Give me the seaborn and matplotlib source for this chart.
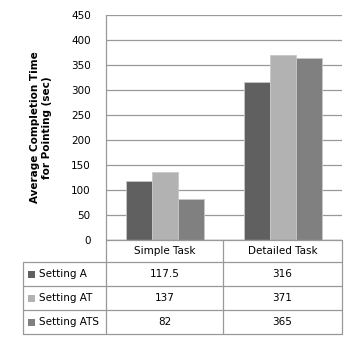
import matplotlib
matplotlib.use("Agg")
import matplotlib.pyplot as plt
from matplotlib.lines import Line2D
from matplotlib.patches import Rectangle
import seaborn as sns
import pandas as pd

categories = ["Simple Task", "Detailed Task"]
settings = ["Setting A", "Setting AT", "Setting ATS"]
setting_a = [117.5, 316]
setting_at = [137, 371]
setting_ats = [82, 365]
value_labels = [["117.5", "316"], ["137", "371"], ["82", "365"]]
colors = ["#606060", "#b2b2b2", "#808080"]

rows = []
for s, vals in zip(settings, [setting_a, setting_at, setting_ats]):
    for c, v in zip(categories, vals):
        rows.append({"Task": c, "Setting": s, "Time": v})
df = pd.DataFrame(rows)

sns.set_style("white")
plt.rcParams["font.family"] = ["DejaVu Sans"]
plt.rcParams["text.color"] = "black"
plt.rcParams["axes.labelcolor"] = "black"
plt.rcParams["ytick.color"] = "black"

W, H = 357, 340
fig = plt.figure(figsize=(W / 100, H / 100), dpi=100)
L, R, T, B = 106, 342, 15, 240
ax = fig.add_axes([L / W, 1 - B / H, (R - L) / W, (B - T) / H])

sns.barplot(data=df, x="Task", y="Time", hue="Setting", hue_order=settings,
            order=categories, palette=colors, width=0.66, ax=ax,
            edgecolor="#c8c8c8", linewidth=0.6, legend=False, saturation=1)

ax.set_ylim(0, 450)
ax.set_xlim(-0.5, 1.5)
ax.set_yticks(range(0, 451, 50))
ax.tick_params(axis="y", labelsize=7.5, length=3, color="#999999", pad=8,
               labelcolor="black")
ax.set_xticks([])
ax.set_xlabel("")
ax.set_ylabel("Average Completion Time\nfor Pointing (sec)", fontsize=7.5,
              fontweight="bold", labelpad=14, color="black")
ax.grid(axis="y", color="#999999", linewidth=0.9)
ax.set_axisbelow(True)
for sp in ["top", "right", "bottom"]:
    ax.spines[sp].set_visible(False)
ax.spines["left"].set_color("#999999")
ax.spines["left"].set_linewidth(0.9)
ax.axhline(0, color="#999999", linewidth=0.9)


def fx(x):
    return x / W


def fy(y):
    return 1 - y / H


lc = "#999999"
# table geometry (pixels)
row_y = [240, 262, 286, 310, 334]
col_x = [23, 106, 223, 342]


def hline(x0, x1, y):
    fig.add_artist(Line2D([fx(x0), fx(x1)], [fy(y), fy(y)], color=lc, lw=0.9))


def vline(x, y0, y1):
    fig.add_artist(Line2D([fx(x), fx(x)], [fy(y0), fy(y1)], color=lc, lw=0.9))


hline(col_x[1], col_x[3], row_y[0])
for y in row_y[1:]:
    hline(col_x[0], col_x[3], y)
vline(col_x[0], row_y[1], row_y[4])
vline(col_x[1], row_y[0], row_y[4])
vline(col_x[2], row_y[0], row_y[4])
vline(col_x[3], row_y[0], row_y[4])

fs = 7.5
for j, c in enumerate(categories):
    cx = (col_x[j + 1] + col_x[j + 2]) / 2
    fig.text(fx(cx), fy((row_y[0] + row_y[1]) / 2), c, ha="center", va="center",
             fontsize=fs, color="black")
for i, s in enumerate(settings):
    cy = (row_y[i + 1] + row_y[i + 2]) / 2
    fig.add_artist(Rectangle((fx(28), fy(cy + 3.5)), 7 / W, 7 / H,
                             facecolor=colors[i], edgecolor="none",
                             transform=fig.transFigure))
    fig.text(fx(39), fy(cy), s, ha="left", va="center", fontsize=fs,
             color="black")
    for j in range(2):
        cx = (col_x[j + 1] + col_x[j + 2]) / 2
        fig.text(fx(cx), fy(cy), value_labels[i][j], ha="center", va="center",
                 fontsize=fs, color="black")

fig.savefig("out.png", dpi=100)
